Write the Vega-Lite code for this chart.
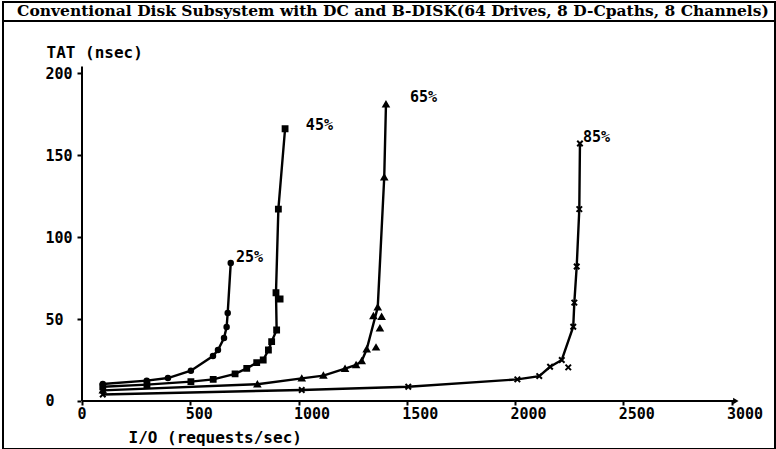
{
  "$schema": "https://vega.github.io/schema/vega-lite/v6.json",
  "autosize": "none",
  "width": 772,
  "height": 447,
  "padding": {"left": 3, "top": 2, "right": 1, "bottom": 0},
  "background": "white",
  "config": {
    "view": {"stroke": "black", "strokeWidth": 2}
  },
  "datasets": {
    "curves": [
      {"s": "25%", "io": 96, "tat": 10.4, "c": 1},
      {"s": "25%", "io": 299, "tat": 12.4, "c": 1},
      {"s": "25%", "io": 397, "tat": 14.0, "c": 1},
      {"s": "25%", "io": 503, "tat": 18.5, "c": 1},
      {"s": "25%", "io": 605, "tat": 27.4, "c": 1},
      {"s": "25%", "io": 628, "tat": 31.1, "c": 1},
      {"s": "25%", "io": 656, "tat": 38.4, "c": 1},
      {"s": "25%", "io": 668, "tat": 45.1, "c": 1},
      {"s": "25%", "io": 673, "tat": 53.7, "c": 1},
      {"s": "25%", "io": 687, "tat": 84.1, "c": 1},
      {"s": "45%", "io": 96, "tat": 8.7, "c": 1},
      {"s": "45%", "io": 300, "tat": 10.0, "c": 1},
      {"s": "45%", "io": 503, "tat": 11.8, "c": 1},
      {"s": "45%", "io": 606, "tat": 13.2, "c": 1},
      {"s": "45%", "io": 707, "tat": 16.5, "c": 1},
      {"s": "45%", "io": 761, "tat": 19.9, "c": 1},
      {"s": "45%", "io": 807, "tat": 23.4, "c": 1},
      {"s": "45%", "io": 837, "tat": 25.0, "c": 1},
      {"s": "45%", "io": 861, "tat": 31.1, "c": 1},
      {"s": "45%", "io": 876, "tat": 36.2, "c": 1},
      {"s": "45%", "io": 899, "tat": 43.3, "c": 1},
      {"s": "45%", "io": 915, "tat": 62.2, "c": 0},
      {"s": "45%", "io": 896, "tat": 66.0, "c": 1},
      {"s": "45%", "io": 907, "tat": 117.0, "c": 1},
      {"s": "45%", "io": 938, "tat": 166.0, "c": 1},
      {"s": "65%", "io": 96, "tat": 6.5, "c": 1},
      {"s": "65%", "io": 810, "tat": 10.2, "c": 1},
      {"s": "65%", "io": 1015, "tat": 13.8, "c": 1},
      {"s": "65%", "io": 1115, "tat": 15.5, "c": 1},
      {"s": "65%", "io": 1215, "tat": 19.7, "c": 1},
      {"s": "65%", "io": 1266, "tat": 22.0, "c": 1},
      {"s": "65%", "io": 1292, "tat": 24.4, "c": 1},
      {"s": "65%", "io": 1315, "tat": 31.5, "c": 1},
      {"s": "65%", "io": 1358, "tat": 32.7, "c": 0},
      {"s": "65%", "io": 1376, "tat": 44.3, "c": 0},
      {"s": "65%", "io": 1384, "tat": 51.4, "c": 0},
      {"s": "65%", "io": 1346, "tat": 51.8, "c": 0},
      {"s": "65%", "io": 1366, "tat": 57.1, "c": 1},
      {"s": "65%", "io": 1396, "tat": 136.4, "c": 1},
      {"s": "65%", "io": 1404, "tat": 180.9, "c": 1},
      {"s": "85%", "io": 96, "tat": 4.0, "c": 1},
      {"s": "85%", "io": 1015, "tat": 6.7, "c": 1},
      {"s": "85%", "io": 1507, "tat": 8.7, "c": 1},
      {"s": "85%", "io": 2011, "tat": 13.2, "c": 1},
      {"s": "85%", "io": 2112, "tat": 15.2, "c": 1},
      {"s": "85%", "io": 2162, "tat": 20.9, "c": 1},
      {"s": "85%", "io": 2246, "tat": 20.5, "c": 0},
      {"s": "85%", "io": 2216, "tat": 25.0, "c": 1},
      {"s": "85%", "io": 2269, "tat": 45.3, "c": 1},
      {"s": "85%", "io": 2274, "tat": 60.0, "c": 1},
      {"s": "85%", "io": 2285, "tat": 82.0, "c": 1},
      {"s": "85%", "io": 2297, "tat": 117.0, "c": 1},
      {"s": "85%", "io": 2300, "tat": 157.0, "c": 1}
    ],
    "rules": [
      {"io": 0, "tat": 0, "io2": 3020, "tat2": 0},
      {"io": 0, "tat": 0, "io2": 0, "tat2": 204},
      {"io": -364.9, "tat": 231.7, "io2": 3200.9, "tat2": 231.7}
    ],
    "arrow": [
      {"io": 3020, "tat": 0}
    ],
    "labels": [
      {"io": 711, "tat": 87.8, "text": "25%"},
      {"io": 1034, "tat": 168.3, "text": "45%"},
      {"io": 1515, "tat": 185.4, "text": "65%"},
      {"io": 2314, "tat": 161, "text": "85%"}
    ],
    "heading": [
      {"io": 1436, "tat": 234.8, "text": "Conventional Disk Subsystem with DC and B-DISK(64 Drives, 8 D-Cpaths, 8 Channels)"}
    ]
  },
  "encoding": {
    "x": {
      "field": "io",
      "type": "quantitative",
      "scale": {"domain": [-364.9, 3200.9], "nice": false, "zero": false},
      "axis": {
        "orient": "bottom",
        "offset": -48,
        "domain": false,
        "grid": false,
        "values": [0, 500, 1000, 1500, 2000, 2500, 3000],
        "format": "d",
        "labelFont": "DejaVu Sans Mono",
        "labelFontWeight": "bold",
        "labelFontSize": 15,
        "labelColor": "black",
        "labelAlign": "left",
        "labelOffset": -5,
        "labelBaseline": "top",
        "labelPadding": 1,
        "labelOverlap": false,
        "labelBound": false,
        "labelFlush": false,
        "tickColor": "black",
        "tickWidth": 2,
        "tickSize": 4,
        "title": "I/O (requests/sec)",
        "titleFont": "DejaVu Sans Mono",
        "titleFontWeight": "bold",
        "titleFontSize": 16,
        "titleColor": "black",
        "titleAlign": "left",
        "titleBaseline": "middle",
        "titleX": 125,
        "titleY": 36
      }
    },
    "y": {
      "field": "tat",
      "type": "quantitative",
      "scale": {"domain": [-29.27, 243.3], "nice": false, "zero": false},
      "axis": {
        "orient": "left",
        "offset": -78,
        "domain": false,
        "grid": false,
        "values": [0, 50, 100, 150, 200],
        "format": "d",
        "labelFont": "DejaVu Sans Mono",
        "labelFontWeight": "bold",
        "labelFontSize": 15,
        "labelColor": "black",
        "labelAlign": "left",
        "labelBaseline": "middle",
        "labelPadding": 32,
        "labelOverlap": false,
        "labelBound": false,
        "labelFlush": false,
        "tickColor": "black",
        "tickWidth": 2,
        "tickSize": 4,
        "title": "TAT (nsec)",
        "titleFont": "DejaVu Sans Mono",
        "titleFontWeight": "bold",
        "titleFontSize": 16,
        "titleColor": "black",
        "titleAngle": 0,
        "titleAlign": "left",
        "titleBaseline": "middle",
        "titleX": -35,
        "titleY": 50
      }
    }
  },
  "layer": [
    {
      "data": {"name": "rules"},
      "mark": {"type": "rule", "color": "black", "strokeWidth": 2},
      "encoding": {
        "x2": {"field": "io2"},
        "y2": {"field": "tat2"}
      }
    },
    {
      "data": {"name": "arrow"},
      "mark": {"type": "point", "shape": "triangle-right", "filled": true, "color": "black", "size": 40, "opacity": 1}
    },
    {
      "data": {"name": "curves"},
      "transform": [{"filter": "datum.c == 1"}],
      "mark": {"type": "line", "color": "black", "strokeWidth": 2.4},
      "encoding": {
        "detail": {"field": "s", "type": "nominal"},
        "order": {"field": "tat", "type": "quantitative"}
      }
    },
    {
      "data": {"name": "curves"},
      "mark": {"type": "point", "filled": true, "color": "black", "stroke": "black", "strokeWidth": 2, "opacity": 1},
      "encoding": {
        "shape": {
          "field": "s",
          "type": "nominal",
          "scale": {
            "domain": ["25%", "45%", "65%", "85%"],
            "range": ["circle", "square", "triangle-up", "M-1,-1L1,1M-1,1L1,-1"]
          },
          "legend": null
        },
        "size": {
          "field": "s",
          "type": "nominal",
          "scale": {"domain": ["25%", "45%", "65%", "85%"], "range": [20, 30, 48, 70]},
          "legend": null
        }
      }
    },
    {
      "data": {"name": "labels"},
      "mark": {
        "type": "text",
        "align": "left",
        "baseline": "middle",
        "font": "DejaVu Sans Mono",
        "fontWeight": "bold",
        "fontSize": 15,
        "color": "black"
      },
      "encoding": {
        "text": {"field": "text", "type": "nominal"}
      }
    },
    {
      "data": {"name": "heading"},
      "mark": {
        "type": "text",
        "align": "center",
        "baseline": "alphabetic",
        "font": "DejaVu Serif",
        "fontWeight": "bold",
        "fontSize": 15.5,
        "color": "black"
      },
      "encoding": {
        "text": {"field": "text", "type": "nominal"}
      }
    }
  ]
}
